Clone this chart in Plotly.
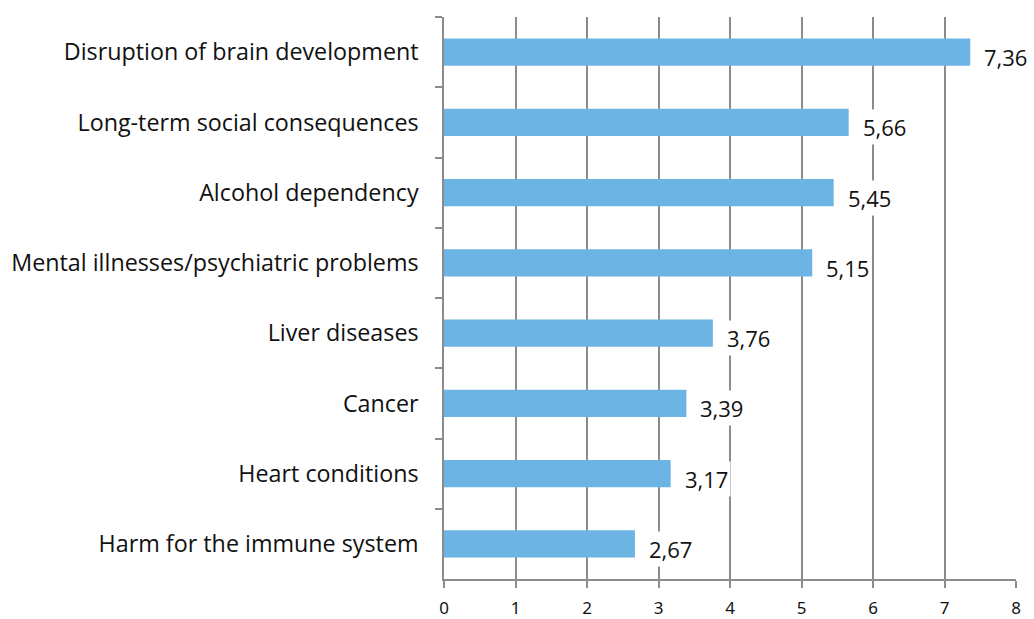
import plotly.graph_objects as go

categories = [
    "Disruption of brain development",
    "Long-term social consequences",
    "Alcohol dependency",
    "Mental illnesses/psychiatric problems",
    "Liver diseases",
    "Cancer",
    "Heart conditions",
    "Harm for the immune system",
]
values = [7.36, 5.66, 5.45, 5.15, 3.76, 3.39, 3.17, 2.67]
value_labels = ["7,36", "5,66", "5,45", "5,15", "3,76", "3,39", "3,17", "2,67"]
x_ticks = [0, 1, 2, 3, 4, 5, 6, 7, 8]

AXIS = "#8c8c8c"
LABEL_FONT = "Open Sans, Lato, sans-serif"

fig = go.Figure(
    go.Bar(
        x=values,
        y=categories,
        orientation="h",
        marker=dict(color="#6cb4e4", line=dict(width=0)),
        width=0.39,
        hoverinfo="skip",
    )
)

for v, c, t in zip(values, categories, value_labels):
    fig.add_annotation(
        x=v, y=c, text=t, showarrow=False,
        xanchor="left", yanchor="middle",
        xshift=11, yshift=-5,
        bgcolor="white", borderpad=2,
        font=dict(family=LABEL_FONT, size=22, color="#111111"),
    )

fig.update_layout(
    width=1034, height=619,
    margin=dict(l=444, r=18, t=17, b=40),
    paper_bgcolor="white", plot_bgcolor="white",
    showlegend=False,
    xaxis=dict(
        range=[0, 8], tickvals=x_ticks, ticktext=[str(v) for v in x_ticks],
        showgrid=True, gridcolor=AXIS, gridwidth=1.5,
        showline=True, linecolor=AXIS, linewidth=1.5,
        ticks="outside", ticklen=7, tickcolor=AXIS, tickwidth=1.5,
        tickfont=dict(family="Noto Sans, sans-serif", size=17, color="#111111"),
        ticklabelstandoff=6,
        zeroline=False, fixedrange=True, automargin=False,
    ),
    yaxis=dict(
        autorange="reversed",
        showline=True, linecolor=AXIS, linewidth=1.5,
        ticks="outside", ticklen=7, tickcolor=AXIS, tickwidth=1.5,
        tickson="boundaries",
        showgrid=False,
        tickfont=dict(family=LABEL_FONT, size=23.3, color="#111111"),
        ticklabelstandoff=19,
        fixedrange=True, automargin=False,
    ),
)

fig.write_html(
    "out.html",
    config={"displayModeBar": False},
    post_script="document.body.style.margin='0';document.body.style.overflow='hidden';",
)
